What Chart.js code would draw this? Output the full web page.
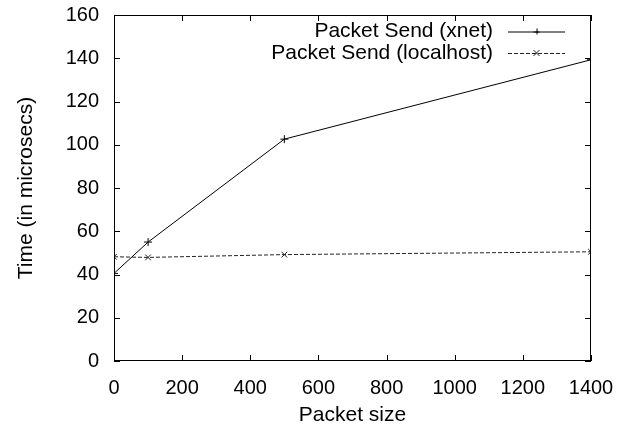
<!DOCTYPE html>
<html>
<head>
<meta charset="utf-8">
<script src="https://cdn.jsdelivr.net/npm/chart.js@4"></script>
<style>
  html, body { margin: 0; padding: 0; background: #fff; }
  #wrap { width: 632px; height: 428px; }
</style>
</head>
<body>
<div id="wrap"><canvas id="chart"></canvas></div>
<script>
const packetSizes = [0, 100, 500, 1400];
const xnetTimes = [40.5, 55, 102.6, 139.3];
const localhostTimes = [48.2, 47.9, 49.2, 50.5];
const xTicks = [0, 200, 400, 600, 800, 1000, 1200, 1400];
const yTicks = [0, 20, 40, 60, 80, 100, 120, 140, 160];
const seriesNames = ["Packet Send (xnet)", "Packet Send (localhost)"];

const FONT = "'Liberation Sans', Arial, sans-serif";

// gnuplot style frame: box, inward ticks on all four sides, legend inside top right
const framePlugin = {
  id: "frame",
  afterDraw(chart) {
    const { ctx, chartArea: a, scales } = chart;
    ctx.save();
    ctx.strokeStyle = "#000";
    ctx.lineWidth = 1;
    ctx.strokeRect(a.left + 0.5, a.top + 0.5, a.right - a.left - 1, a.bottom - a.top - 1);
    const len = 6;
    ctx.beginPath();
    xTicks.forEach(v => {
      const px = Math.round(scales.x.getPixelForValue(v)) + 0.5;
      ctx.moveTo(px, a.bottom); ctx.lineTo(px, a.bottom - len);
      ctx.moveTo(px, a.top); ctx.lineTo(px, a.top + len);
    });
    yTicks.forEach(v => {
      const py = Math.round(scales.y.getPixelForValue(v)) + 0.5;
      ctx.moveTo(a.left, py); ctx.lineTo(a.left + len, py);
      ctx.moveTo(a.right, py); ctx.lineTo(a.right - len, py);
    });
    ctx.stroke();

    // legend
    ctx.font = "21px " + FONT;
    ctx.textAlign = "right";
    ctx.textBaseline = "middle";
    ctx.fillStyle = "#000";
    chart.data.datasets.forEach((ds, i) => {
      const y = a.top + 16.5 + i * 21.5;
      const textRight = a.right - 98;
      ctx.fillText(ds.label, textRight, y);
      const x0 = textRight + 15, x1 = a.right - 26;
      ctx.strokeStyle = ds.borderColor;
      ctx.setLineDash(ds.borderDash || []);
      ctx.beginPath();
      ctx.moveTo(x0, y + 0.5); ctx.lineTo(x1, y + 0.5);
      ctx.stroke();
      ctx.setLineDash([]);
      const cx = (x0 + x1) / 2, r = 3;
      ctx.beginPath();
      if (ds.pointStyle === "cross") {
        ctx.moveTo(cx - r, y + 0.5); ctx.lineTo(cx + r, y + 0.5);
        ctx.moveTo(cx + 0.5, y - r); ctx.lineTo(cx + 0.5, y + r);
      } else {
        ctx.moveTo(cx - r, y - r); ctx.lineTo(cx + r, y + r);
        ctx.moveTo(cx - r, y + r); ctx.lineTo(cx + r, y - r);
      }
      ctx.stroke();
    });
    ctx.restore();
  }
};

new Chart(document.getElementById("chart"), {
  type: "line",
  data: {
    datasets: [
      {
        label: seriesNames[0],
        data: packetSizes.map((x, i) => ({ x, y: xnetTimes[i] })),
        borderColor: "#000",
        borderWidth: 1,
        pointStyle: "cross",
        pointRadius: 4,
        pointBorderColor: "#000",
        pointBorderWidth: 1,
        fill: false,
        tension: 0
      },
      {
        label: seriesNames[1],
        data: packetSizes.map((x, i) => ({ x, y: localhostTimes[i] })),
        borderColor: "#222",
        borderWidth: 1,
        borderDash: [4, 2],
        pointStyle: "crossRot",
        pointRadius: 4,
        pointBorderColor: "#222",
        pointBorderWidth: 1,
        fill: false,
        tension: 0
      }
    ]
  },
  options: {
    responsive: true,
    maintainAspectRatio: false,
    animation: false,
    layout: { padding: { top: 15, right: 41, left: 0, bottom: 0 } },
    plugins: {
      legend: { display: false },
      tooltip: { enabled: false }
    },
    scales: {
      x: {
        type: "linear",
        min: 0,
        max: 1400,
        afterBuildTicks: (s) => { s.ticks = xTicks.map(v => ({ value: v })); },
        afterFit: (s) => { s.height = 67; s.paddingLeft = 0; s.paddingRight = 0; },
        grid: { display: false },
        border: { display: false },
        ticks: { color: "#000", font: { family: FONT, size: 20 }, padding: 7, maxRotation: 0, callback: (v) => String(v) },
        title: { display: true, text: "Packet size", color: "#000", font: { family: FONT, size: 21 }, padding: { top: 7, bottom: 0 } }
      },
      y: {
        min: 0,
        max: 160,
        afterBuildTicks: (s) => { s.ticks = yTicks.map(v => ({ value: v })); },
        afterFit: (s) => { s.width = 114; s.paddingTop = 0; s.paddingBottom = 0; },
        grid: { display: false },
        border: { display: false },
        ticks: { color: "#000", font: { family: FONT, size: 20 }, padding: 7, callback: (v) => String(v) },
        title: { display: true, text: "Time (in microsecs)", color: "#000", font: { family: FONT, size: 21 }, padding: { top: 14, bottom: 4 } }
      }
    }
  },
  plugins: [framePlugin]
});
</script>
</body>
</html>
